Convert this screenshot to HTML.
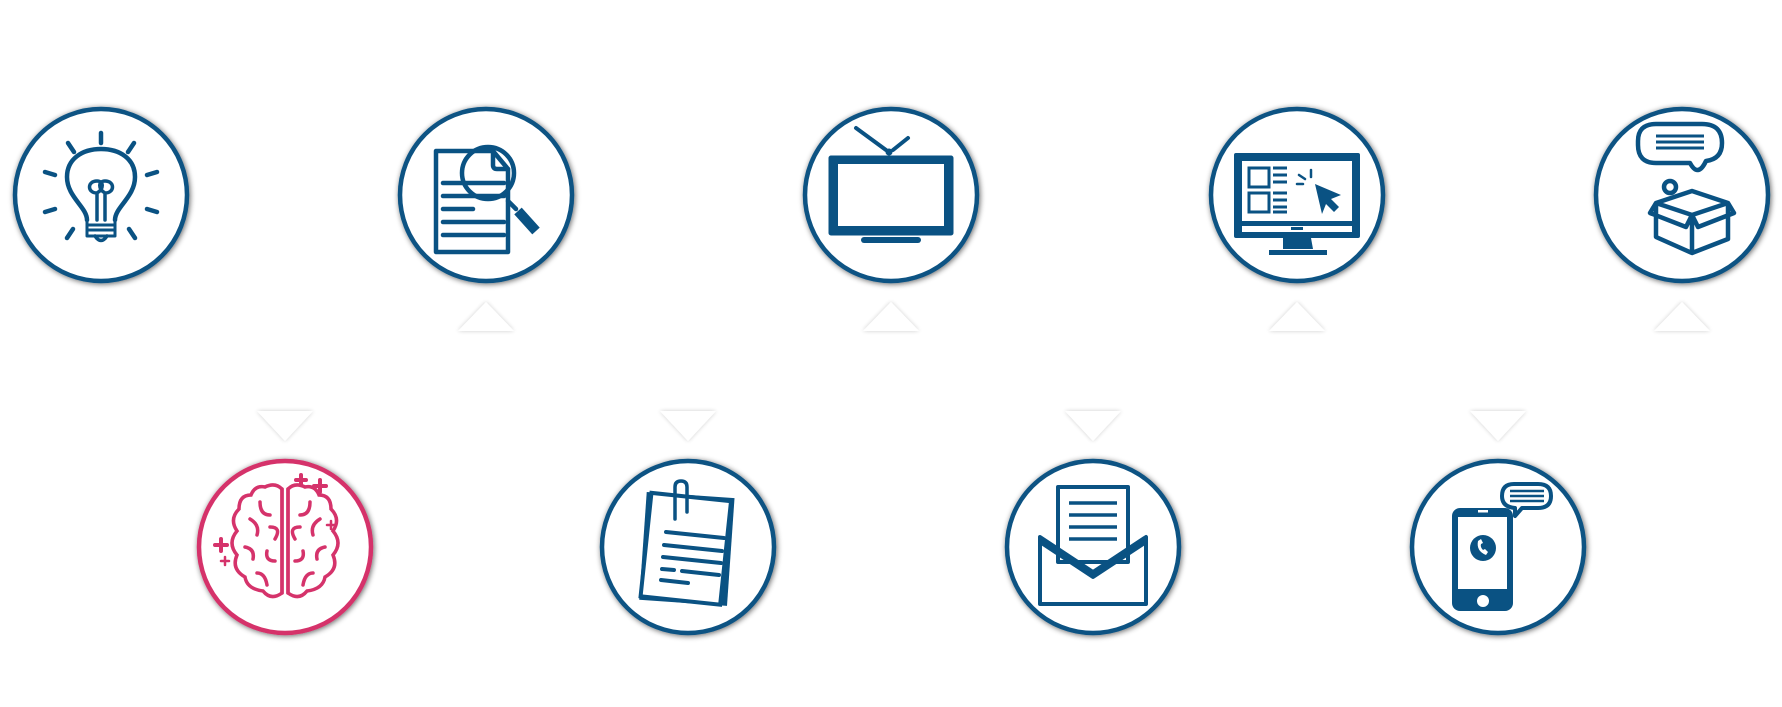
<!DOCTYPE html>
<html><head><meta charset="utf-8"><style>
html,body{margin:0;padding:0;background:#fff;}
svg{display:block;}
</style></head><body>
<svg width="1782" height="707" viewBox="0 0 1782 707" xmlns="http://www.w3.org/2000/svg">
<defs>
<filter id="sh" x="-20%" y="-20%" width="140%" height="140%">
<feGaussianBlur in="SourceAlpha" stdDeviation="3"/>
<feOffset dx="1" dy="1" result="b"/>
<feComponentTransfer><feFuncA type="linear" slope="0.6"/></feComponentTransfer>
<feMerge><feMergeNode/><feMergeNode in="SourceGraphic"/></feMerge>
</filter>
<filter id="ts" x="-30%" y="-30%" width="160%" height="160%">
<feGaussianBlur in="SourceAlpha" stdDeviation="2"/>
<feComponentTransfer><feFuncA type="linear" slope="0.2"/></feComponentTransfer>
<feMerge><feMergeNode/><feMergeNode in="SourceGraphic"/></feMerge>
</filter>
</defs>

<g filter="url(#sh)" fill="#fff" stroke-width="4.5">
<circle cx="101" cy="195" r="86" stroke="#0a5283"/>
<circle cx="486" cy="195" r="86" stroke="#0a5283"/>
<circle cx="891" cy="195" r="86" stroke="#0a5283"/>
<circle cx="1297" cy="195" r="86" stroke="#0a5283"/>
<circle cx="1682" cy="195" r="86" stroke="#0a5283"/>
<circle cx="285" cy="547" r="86" stroke="#d5336b"/>
<circle cx="688" cy="547" r="86" stroke="#0a5283"/>
<circle cx="1093" cy="547" r="86" stroke="#0a5283"/>
<circle cx="1498" cy="547" r="86" stroke="#0a5283"/>
</g>

<g fill="#fff" filter="url(#ts)">
<polygon points="458,331 514,331 486,302"/>
<polygon points="863,331 919,331 891,302"/>
<polygon points="1269,331 1325,331 1297,302"/>
<polygon points="1654,331 1710,331 1682,302"/>
<polygon points="257,411 313,411 285,441"/>
<polygon points="660,411 716,411 688,441"/>
<polygon points="1065,411 1121,411 1093,441"/>
<polygon points="1470,411 1526,411 1498,441"/>
</g>

<!-- bulb -->
<g transform="translate(101,195)" fill="none" stroke="#0a5283" stroke-width="4.5" stroke-linecap="round" stroke-linejoin="round">
<line x1="0" y1="-62" x2="0" y2="-52"/>
<line x1="-33" y1="-52" x2="-27" y2="-43"/>
<line x1="33" y1="-52" x2="27" y2="-43"/>
<line x1="-56" y1="-23" x2="-46" y2="-20"/>
<line x1="56" y1="-23" x2="46" y2="-20"/>
<line x1="-56" y1="17" x2="-46" y2="14"/>
<line x1="56" y1="17" x2="46" y2="14"/>
<line x1="-34" y1="43" x2="-28" y2="34"/>
<line x1="34" y1="43" x2="28" y2="34"/>
<path d="M-14,25 C-14,12 -34,2 -34,-18 C-34,-36 -19,-46 0,-46 C19,-46 34,-36 34,-18 C34,2 14,12 14,25"/>
<path d="M-14,25 V41 H14 V25 M-14,30 H14 M-14,35 H14" stroke-width="3"/>
<path d="M-6,41 Q0,50 6,41" stroke-width="3.5"/>
<path d="M-4,25 V-2 M4,25 V-2 M-4,-2 C-14,-2 -14,-14 -4,-14 C3,-14 3,-6 -4,-2 M4,-2 C14,-2 14,-14 4,-14 C-3,-14 -3,-6 4,-2" stroke-width="3.5"/>
</g>

<!-- doc search -->
<g transform="translate(486,195)" fill="none" stroke="#0a5283" stroke-width="4.5" stroke-linecap="round" stroke-linejoin="round">
<path d="M-50,-44 H7 L22,-26 V57 H-50 Z"/>
<path d="M7,-44 V-30 Q7,-26 11,-26 H22" />
<line x1="-43" y1="-12" x2="18" y2="-12"/>
<line x1="-43" y1="1" x2="18" y2="1"/>
<line x1="-43" y1="14" x2="-13" y2="14"/>
<line x1="-43" y1="27" x2="18" y2="27"/>
<line x1="-43" y1="40" x2="18" y2="40"/>
<circle cx="2" cy="-22" r="26"/>
<line x1="22" y1="6" x2="30" y2="14"/>
<line x1="32" y1="16" x2="50" y2="36" stroke-width="10" stroke-linecap="butt"/>
</g>

<!-- TV -->
<g transform="translate(891,195)" fill="#0a5283" stroke="#0a5283" stroke-linecap="round">
<rect x="-62" y="-39" width="124" height="79" rx="2"/>
<rect x="-53" y="-31" width="106" height="62" fill="#fff" stroke="none"/>
<line x1="-35" y1="-67" x2="-5" y2="-45" stroke-width="4" fill="none"/>
<line x1="17" y1="-57" x2="2" y2="-45" stroke-width="4" fill="none"/>
<circle cx="-2" cy="-43" r="3"/>
<rect x="-30" y="42" width="60" height="6" rx="3" stroke="none"/>
</g>

<!-- monitor -->
<g transform="translate(1297,195)" stroke="#0a5283" fill="none">
<rect x="-63" y="-42" width="126" height="85" rx="2" fill="#0a5283" stroke="none"/>
<rect x="-55" y="-34" width="110" height="60" fill="#fff" stroke="none"/>
<rect x="-55" y="31" width="110" height="6" fill="#fff" stroke="none"/>
<rect x="-6" y="32" width="12" height="3" fill="#0a5283" stroke="none"/>
<path d="M-14,43 H14 L16,54 H-14 Z M-28,55 H30 V60 H-28 Z" fill="#0a5283" stroke="none"/>
<rect x="-48" y="-27" width="20" height="19" stroke-width="3"/>
<rect x="-48" y="-2" width="20" height="19" stroke-width="3"/>
<g stroke-width="3"><path d="M-24,-27 H-10 M-24,-20 H-10 M-24,-13 H-10 M-24,-2 H-10 M-24,5 H-10 M-24,12 H-10 M-24,17 H-10"/></g>
<g stroke-width="2.5" stroke-linecap="round"><path d="M0,-11 H6 M2,-20 L8,-16 M14,-25 L14,-18"/></g>
<path d="M18,-11 L44,0 L34,4 L42,12 L37,17 L29,9 L25,19 Z" fill="#0a5283" stroke="none"/>
</g>

<!-- box + bubble -->
<g transform="translate(1682,195)" stroke="#0a5283" fill="none" stroke-width="4.5" stroke-linejoin="round">
<path d="M-44,-54 Q-44,-71 -26,-71 H20 Q40,-71 40,-52 Q40,-36 24,-34 Q16,-17 8,-32 H-26 Q-44,-32 -44,-50 Z"/>
<path d="M-26,-59 H22 M-26,-53 H22 M-26,-47 H22" stroke-width="3"/>
<circle cx="-12" cy="-8" r="6"/>
<path d="M-26,8 L10,-4 L46,8 L10,20 Z M-26,8 V42 L10,58 L46,44 V8 M10,20 V58 M-26,8 L-32,18 L4,32 L10,20 L16,32 L52,18 L46,8"/>
</g>

<!-- brain -->
<g transform="translate(285,547)" stroke="#d5336b" fill="none" stroke-width="3.5" stroke-linecap="round">
<path d="M-3,-58 Q-10,-65 -20,-60 Q-30,-62 -34,-52 Q-46,-52 -46,-38 Q-56,-28 -48,-16 Q-58,-4 -48,8 Q-54,22 -40,30 Q-38,42 -22,44 Q-14,54 -3,46 Z"/>
<path d="M3,-58 Q10,-65 20,-60 Q30,-62 34,-52 Q46,-52 46,-38 Q56,-28 48,-16 Q58,-4 48,8 Q54,22 40,30 Q38,42 22,44 Q14,54 3,46 Z"/>
<path d="M-3,-58 V46 M3,-58 V46"/>
<path d="M-25,-45 Q-25,-32 -15,-32 M-35,-28 Q-25,-22 -28,-12 M-15,-20 Q-3,-20 -10,-8 M-40,0 Q-30,2 -32,12 M-18,4 Q-20,14 -10,14 M-28,26 Q-20,26 -18,38"/>
<path d="M25,-45 Q25,-32 15,-32 M35,-28 Q25,-22 28,-12 M15,-20 Q3,-20 10,-8 M40,0 Q30,2 32,12 M18,4 Q20,14 10,14 M28,26 Q20,26 18,38"/>
<g stroke-width="4"><path d="M16,-72 V-62 M11,-67 H21 M35,-67 V-55 M29,-61 H41 M-64,-8 V4 M-70,-2 H-58"/></g>
<g stroke-width="2.5"><path d="M46,-26 V-18 M42,-22 H50 M-60,10 V18 M-64,14 H-56"/></g>
</g>

<!-- clipboard papers -->
<g transform="translate(688,547)">
<g transform="rotate(4)"><rect x="-45" y="-52" width="88" height="108" fill="#0a5283"/></g>
<g transform="rotate(6)"><rect x="-42" y="-50" width="80" height="104" fill="#fff" stroke="#0a5283" stroke-width="4"/></g>
<g stroke="#0a5283" stroke-width="4" stroke-linecap="round" fill="none">
<path d="M-22,-15 L36,-9 M-24,-2 L34,4 M-25,10 L33,16 M-26,22 L-14,23 M-6,24 L31,28 M-27,33 L0,36"/>
<path d="M-13,-28 V-60 Q-13,-66 -7,-66 Q-1,-66 -1,-60 V-35" stroke-width="3.5"/>
</g>
</g>

<!-- envelope -->
<g transform="translate(1093,547)" stroke="#0a5283" fill="none" stroke-width="4" stroke-linejoin="round">
<path d="M-53,-10 V57 H53 V-10" />
<rect x="-35" y="-60" width="70" height="75" fill="#fff"/>
<path d="M-53,-10 L0,25 L53,-10 V-5 L0,30 L-53,-5 Z" fill="#0a5283"/>
<path d="M-24,-44 H24 M-24,-32 H24 M-24,-20 H24 M-24,-8 H24" stroke-width="3.5"/>
</g>

<!-- phone -->
<g transform="translate(1498,547)">
<rect x="-46" y="-39" width="61" height="103" rx="8" fill="#0a5283"/>
<rect x="-40" y="-30" width="49" height="72" fill="#fff"/>
<rect x="-20" y="-37" width="10" height="2.5" fill="#fff"/>
<circle cx="-15" cy="54" r="6" fill="#fff"/>
<circle cx="-15" cy="1" r="13" fill="#0a5283"/>
<path d="M-20,-6 Q-22,4 -12,8 L-10,5 L-13,2 L-15,3 Q-18,0 -17,-3 L-15,-4 L-17,-8 Z" fill="#fff"/>
<path d="M4,-51 Q4,-63 16,-63 H40 Q53,-63 53,-51 Q53,-39 40,-39 H24 L17,-31 V-39 Q4,-40 4,-51 Z" fill="#fff" stroke="#0a5283" stroke-width="4" stroke-linejoin="round"/>
<path d="M12,-56 H46 M12,-51 H46 M12,-46 H46" stroke="#0a5283" stroke-width="2.5"/>
</g>
</svg>
</body></html>
